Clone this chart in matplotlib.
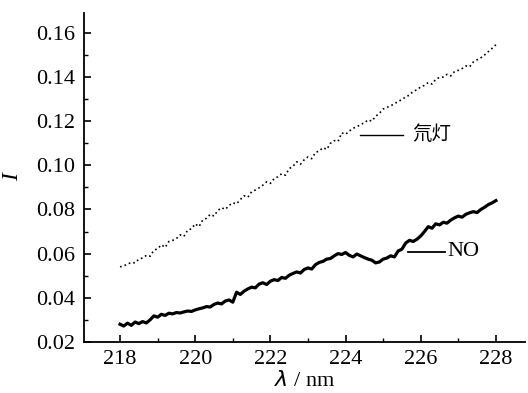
import numpy as np
import matplotlib
matplotlib.use("Agg")
import matplotlib.pyplot as plt
from matplotlib.ticker import MultipleLocator

wavelength = [218.0 + 0.1 * i for i in range(101)]

no_signal = [
    .0280, .0272, .0285, .0275, .0290, .0283, .0292, .0286, .0300, .0318,
    .0312, .0325, .0320, .0330, .0327, .0333, .0331, .0336, .0340, .0338,
    .0345, .0350, .0354, .0360, .0358, .0370, .0376, .0372, .0385, .0390,
    .0380, .0425, .0415, .0430, .0440, .0448, .0445, .0462, .0468, .0460,
    .0475, .0482, .0478, .0492, .0488, .0502, .0510, .0517, .0512, .0528,
    .0535, .0530, .0550, .0560, .0565, .0575, .0578, .0590, .0600, .0596,
    .0605, .0592, .0585, .0598, .0590, .0582, .0575, .0570, .0558, .0562,
    .0575, .0580, .0590, .0585, .0612, .0620, .0648, .0660, .0655, .0665,
    .0680, .0700, .0722, .0715, .0735, .0730, .0742, .0738, .0752, .0762,
    .0770, .0765, .0778, .0785, .0790, .0786, .0800, .0810, .0822, .0830,
    .0840,
]

lamp_signal = [
    .0540, .0545, .0552, .0560, .0558, .0575, .0580, .0592, .0588, .0615,
    .0622, .0640, .0628, .0655, .0660, .0668, .0685, .0678, .0707, .0712,
    .0735, .0722, .0752, .0760, .0778, .0770, .0795, .0808, .0800, .0818,
    .0830, .0825, .0845, .0862, .0855, .0880, .0888, .0898, .0910, .0925,
    .0918, .0940, .0948, .0962, .0955, .0985, .0995, .1016, .1005, .1025,
    .1038, .1030, .1058, .1065, .1080, .1072, .1100, .1112, .1108, .1147,
    .1140, .1155, .1168, .1174, .1185, .1192, .1206, .1200, .1222, .1235,
    .1255, .1262, .1270, .1278, .1290, .1297, .1310, .1318, .1335, .1342,
    .1355, .1362, .1375, .1368, .1390, .1398, .1400, .1412, .1405, .1425,
    .1430, .1438, .1450, .1446, .1468, .1478, .1487, .1500, .1515, .1530,
    .1546,
]

x_ticks = [218, 220, 222, 224, 226, 228]
y_ticks = [0.02, 0.04, 0.06, 0.08, 0.10, 0.12, 0.14, 0.16]
lamp_label = "氘灯"
no_label = "NO"

serif = ["Liberation Serif", "DejaVu Serif"]
plt.rcParams["font.family"] = serif

fig = plt.figure(figsize=(5.28, 3.93), dpi=100)
ax = fig.add_axes([0.159, 0.130, 0.835, 0.837])

ax.plot(wavelength, lamp_signal, linestyle=(0, (1, 1.8)), color="black", linewidth=1.2)
ax.plot(wavelength, no_signal, linestyle="-", color="black", linewidth=2.3)

ax.set_xlim(217.04, 228.77)
ax.set_ylim(0.02, 0.169)
ax.set_xticks(x_ticks)
ax.set_yticks(y_ticks)
ax.set_yticklabels([f"{v:.2f}" for v in y_ticks])
ax.xaxis.set_minor_locator(MultipleLocator(1))
ax.yaxis.set_minor_locator(MultipleLocator(0.01))

for s in ["top", "right"]:
    ax.spines[s].set_visible(False)
for s in ["left", "bottom"]:
    ax.spines[s].set_linewidth(1.3)

ax.tick_params(axis="both", which="major", direction="in", length=5, width=1.2,
               labelsize=16, pad=6)
ax.tick_params(axis="both", which="minor", direction="in", length=3, width=1.0)

ax.set_ylabel("I", fontsize=17, style="italic", labelpad=10)
ax.set_xlabel(r"$\lambda$ / nm", fontsize=16, labelpad=1)

# annotations
ax.plot([224.38, 225.53], [0.1138, 0.1138], color="black", linewidth=1.0)
ax.text(225.77, 0.1138, lamp_label, fontsize=14, va="center", ha="left",
        family=["Noto Sans CJK SC", "DejaVu Sans"])
ax.plot([225.66, 226.64], [0.0608, 0.0608], color="black", linewidth=1.3)
ax.text(226.70, 0.0608, no_label, fontsize=16, va="center", ha="left")

fig.savefig("out.png", dpi=100)
